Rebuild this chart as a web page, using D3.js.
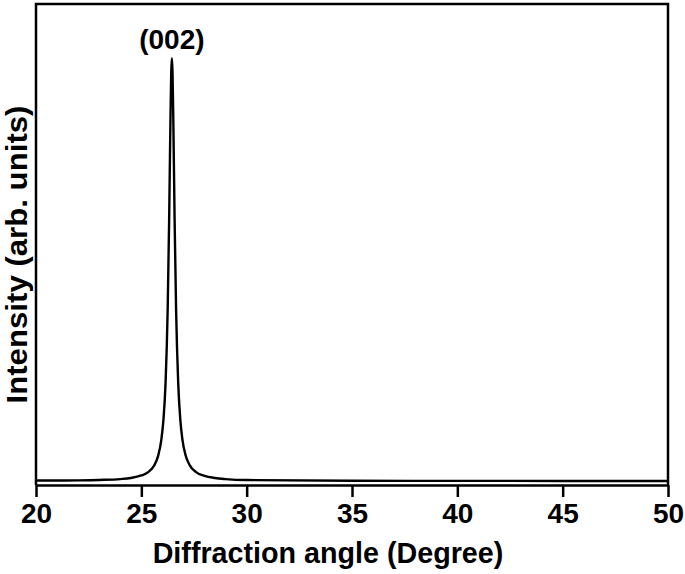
<!DOCTYPE html>
<html>
<head>
<meta charset="utf-8">
<script src="https://cdn.jsdelivr.net/npm/d3@7/dist/d3.min.js"></script>
<style>
  html, body { margin: 0; padding: 0; background: #fff; }
  svg { display: block; }
  text { font-family: "Liberation Sans", Arial, Helvetica, sans-serif; font-weight: bold; fill: #000; }
</style>
</head>
<body>
<svg id="chart" width="685" height="574"></svg>
<script>
// Diffraction angle (degrees)
const angles = [20, 21, 22, 23, 24, 24.5, 25, 25.3, 25.6, 25.8, 25.95, 26.05, 26.15, 26.25, 26.32, 26.38, 26.42, 26.45,
  26.48, 26.52, 26.58, 26.65, 26.75, 26.85, 26.95, 27.1, 27.3, 27.6, 28, 28.5, 29, 30, 35, 40, 45, 50];
// Intensity (arb. units, peak = 100)
const intensity = [0.1, 0.1, 0.15, 0.25, 0.45, 0.7, 1.3, 2.0, 3.6, 6.0, 9.8, 14.5, 23.2, 40.5, 61.7, 84.7, 96.8, 100,
  96.8, 84.7, 61.7, 40.5, 23.2, 14.5, 9.8, 6.1, 3.7, 2.1, 1.2, 0.7, 0.45, 0.22, 0.05, 0.02, 0.01, 0.0];
const xTicks = [20, 25, 30, 35, 40, 45, 50];
const peakLabel = { angle: 26.45, text: "(002)" };
const xTitle = "Diffraction angle (Degree)";
const yTitle = "Intensity (arb. units)";

const svg = d3.select("#chart");
const mLeft = 36, mRight = 668, mTop = 4, mBottom = 485;

const x = d3.scaleLinear().domain([20, 50]).range([mLeft, mRight]);
const y = d3.scaleLinear().domain([-0.95, 112.8]).range([mBottom, mTop]);

const data = angles.map((a, i) => ({ a, v: intensity[i] }));

// curve
svg.append("path")
  .datum(data)
  .attr("fill", "none")
  .attr("stroke", "#000")
  .attr("stroke-width", 2.4)
  .attr("stroke-linejoin", "round")
  .attr("d", d3.line().x(d => x(d.a)).y(d => y(d.v)).curve(d3.curveMonotoneX));

// frame (top, left, right)
svg.append("path")
  .attr("fill", "none")
  .attr("stroke", "#000")
  .attr("stroke-width", 2.5)
  .attr("d", `M${mLeft},${mBottom}V${mTop}H${mRight}V${mBottom}`);

// bottom axis
const xAxis = d3.axisBottom(x).tickValues(xTicks).tickFormat(d3.format("d")).tickSizeOuter(0).tickSizeInner(12).tickPadding(6);
const gx = svg.append("g").attr("transform", `translate(0,${mBottom})`).call(xAxis);
gx.select(".domain").attr("stroke", "#000").attr("stroke-width", 2.5);
gx.selectAll(".tick line").attr("stroke", "#000").attr("stroke-width", 2.5);
gx.selectAll(".tick text")
  .attr("font-family", "Liberation Sans, Arial, sans-serif")
  .attr("font-weight", "bold")
  .attr("font-size", 28)
  .attr("fill", "#000");

// axis titles
svg.append("text")
  .attr("x", 328)
  .attr("y", 563)
  .attr("text-anchor", "middle")
  .attr("font-size", 28.7)
  .text(xTitle);

svg.append("text")
  .attr("transform", `translate(27,254.5) rotate(-90)`)
  .attr("text-anchor", "middle")
  .attr("font-size", 29)
  .attr("textLength", 298)
  .attr("lengthAdjust", "spacingAndGlyphs")
  .text(yTitle);

// peak label
svg.append("text")
  .attr("x", x(peakLabel.angle))
  .attr("y", 49)
  .attr("text-anchor", "middle")
  .attr("font-size", 28)
  .text(peakLabel.text);
</script>
</body>
</html>
